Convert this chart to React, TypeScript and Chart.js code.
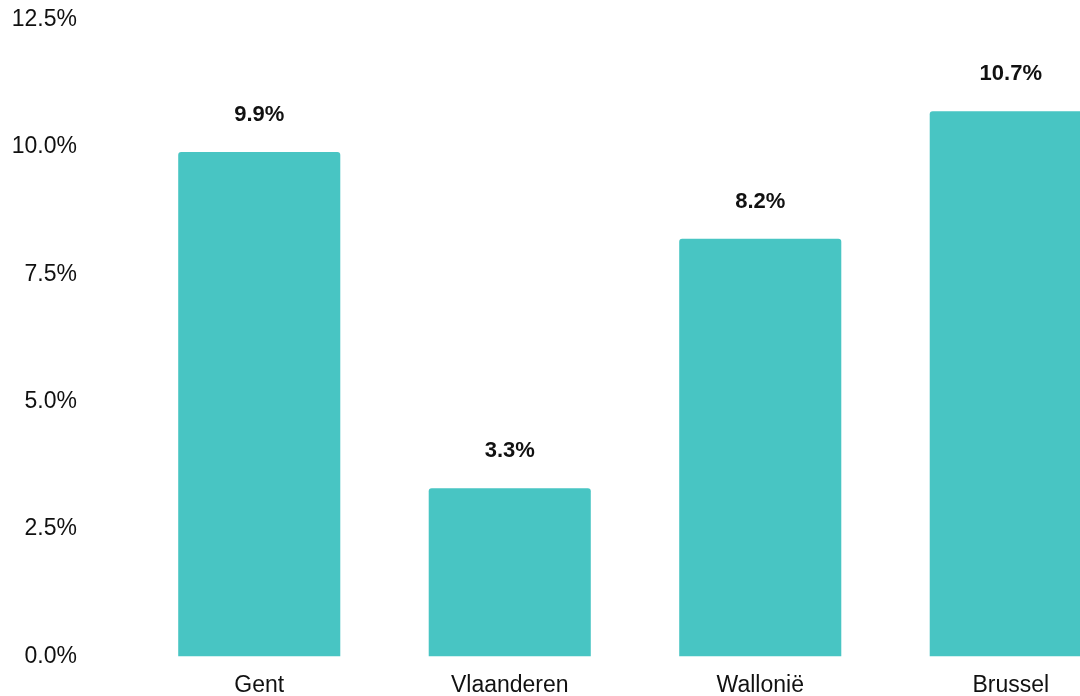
import React, { useEffect, useRef } from "react";
import { Chart, registerables } from "chart.js";

Chart.register(...registerables);

const categories = ["Gent", "Vlaanderen", "Wallonië", "Brussel"];
const values = [9.9, 3.3, 8.2, 10.7];
const yTicks = [0, 2.5, 5, 7.5, 10, 12.5];

const FONT = "Arial";

const valueLabels = {
  id: "valueLabels",
  afterDatasetsDraw(chart: any) {
    const ctx = chart.ctx;
    const meta = chart.getDatasetMeta(0);
    ctx.save();
    ctx.font = `bold 22px ${FONT}`;
    ctx.fillStyle = "#111111";
    ctx.textAlign = "center";
    ctx.textBaseline = "middle";
    meta.data.forEach((bar: any, i: number) => {
      const v = chart.data.datasets[0].data[i];
      ctx.fillText(v.toFixed(1) + "%", bar.x, bar.y - 37);
    });
    ctx.restore();
  },
};

export default function App() {
  const ref = useRef<HTMLCanvasElement>(null);
  useEffect(() => {
    if (!ref.current) return;
    const chart = new Chart(ref.current, {
      type: "bar",
      data: {
        labels: categories,
        datasets: [
          {
            data: values,
            backgroundColor: "#48C5C3",
            borderRadius: 3,
            barPercentage: 0.647,
            categoryPercentage: 1,
          },
        ],
      },
      options: {
        responsive: false,
        animation: false,
        layout: { padding: { left: 0, top: 19.5, right: 0, bottom: 0 } },
        plugins: {
          legend: { display: false },
          tooltip: { enabled: false },
        },
        scales: {
          x: {
            grid: { display: false, drawTicks: false },
            border: { display: false },
            afterFit: (scale: any) => {
              scale.height = 39.5;
            },
            ticks: {
              color: "#111111",
              font: { family: FONT, size: 23 },
              padding: 15,
              maxRotation: 0,
            },
          },
          y: {
            min: 0,
            max: 12.5,
            grid: { display: false, drawTicks: false },
            border: { display: false },
            afterFit: (scale: any) => {
              scale.width = 134;
              scale.paddingTop = 0;
              scale.paddingBottom = 0;
            },
            afterBuildTicks: (scale: any) => {
              scale.ticks = yTicks.map((v) => ({ value: v }));
            },
            ticks: {
              color: "#111111",
              font: { family: FONT, size: 23 },
              padding: 57,
              callback: (v: any) => Number(v).toFixed(1) + "%",
            },
          },
        },
      },
      plugins: [valueLabels],
    });
    return () => chart.destroy();
  }, []);
  return (
    <div
      style={{
        position: "fixed",
        left: 0,
        top: 0,
        width: 1080,
        height: 696,
        overflow: "hidden",
        background: "#ffffff",
      }}
    >
      <canvas ref={ref} width={1136} height={696} style={{ display: "block" }} />
    </div>
  );
}
